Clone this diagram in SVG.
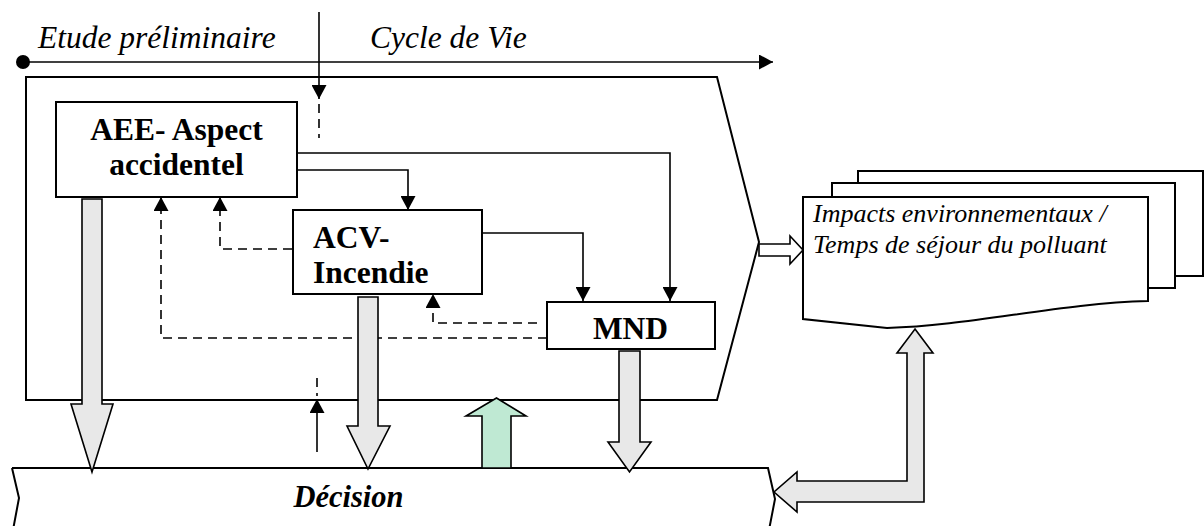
<svg xmlns="http://www.w3.org/2000/svg" width="1204" height="526" viewBox="0 0 1204 526">
<defs>
<style>
.ln{fill:none;stroke:#000;stroke-width:1.6}
.dash{fill:none;stroke:#000;stroke-width:1.6;stroke-dasharray:9 6}
.box{fill:#fff;stroke:#000;stroke-width:2}
.big{fill:#e8e8e8;stroke:#000;stroke-width:1.6;stroke-linejoin:miter}
.grn{fill:#bfe9d3;stroke:#000;stroke-width:1.6}
.wht{fill:#fff;stroke:#000;stroke-width:1.6}
.it{font-family:"Liberation Serif","Times New Roman",serif;font-style:italic;fill:#000}
.bd{font-family:"Liberation Serif","Times New Roman",serif;font-weight:bold;fill:#000}
</style>
<marker id="ah" viewBox="0 0 14 15" refX="14" refY="7.5" markerWidth="14" markerHeight="15" markerUnits="userSpaceOnUse" orient="auto">
<path d="M0,0 L14,7.5 L0,15 Z" fill="#000"/>
</marker>
</defs>

<g id="cycle">
<path class="box" d="M26,77 H717 L759,242 L717,400 H26 Z" fill="none"/>
</g>

<g id="documents">
<rect class="box" x="858" y="171" width="345" height="105"/>
<rect class="box" x="832" y="183" width="343" height="105"/>
<path class="box" d="M803,197 H1148 V301 C1060,303 970,326 887,328 L803,319 Z"/>
<text class="it" font-size="26" x="813" y="222">Impacts environnementaux /</text>
<text class="it" font-size="26" x="813" y="253">Temps de séjour du polluant</text>
</g>

<g id="decision">
<path class="box" d="M12,468 H768 L775,499 L769,530 M12,468 L19,498 L13,530" fill="none"/>
<text class="it" font-weight="bold" font-size="30.5" x="348.5" y="507" text-anchor="middle">Décision</text>
</g>

<g id="aee">
<rect class="box" x="56" y="102" width="241" height="95"/>
<text class="bd" font-size="31.5" x="176.5" y="140" text-anchor="middle">AEE- Aspect</text>
<text class="bd" font-size="31.5" x="176.5" y="175" text-anchor="middle">accidentel</text>
</g>

<g id="acv">
<rect class="box" x="293" y="210" width="189" height="84"/>
<text class="bd" font-size="31.5" x="313" y="248">ACV-</text>
<text class="bd" font-size="31.5" x="313" y="283">Incendie</text>
</g>

<g id="mnd">
<rect class="box" x="547" y="302" width="168" height="47"/>
<text class="bd" font-size="31.5" x="630.5" y="339" text-anchor="middle">MND</text>
</g>

<g id="timeline">
<circle cx="23" cy="62" r="7" fill="#000"/>
<line class="ln" x1="23" y1="62" x2="773" y2="62" marker-end="url(#ah)"/>
<text class="it" font-size="31.5" x="38" y="48">Etude préliminaire</text>
<text class="it" font-size="31.5" x="370" y="48">Cycle de Vie</text>
</g>

<g id="connectors">
<line class="ln" x1="319" y1="12" x2="319" y2="99" marker-end="url(#ah)"/>
<line class="dash" x1="319" y1="104" x2="319" y2="138"/>
<path class="ln" d="M297,170 H408 V210" marker-end="url(#ah)"/>
<path class="ln" d="M297,153 H670 V301" marker-end="url(#ah)"/>
<path class="ln" d="M482,233 H583 V301" marker-end="url(#ah)"/>
<path class="dash" d="M292,249 H220 V197" marker-end="url(#ah)"/>
<path class="dash" d="M547,338 H161 V197" marker-end="url(#ah)"/>
<path class="dash" d="M537,323 H433 V294" marker-end="url(#ah)"/>
<line class="ln" x1="317" y1="452" x2="317" y2="399" marker-end="url(#ah)"/>
<line class="dash" x1="317" y1="378" x2="317" y2="396"/>
<polygon class="big" points="82,199 102,199 102,404 113,404 92,472 71,404 82,404"/>
<polygon class="big" points="358,297 378,297 378,426 390,426 368,469 347,426 358,426"/>
<polygon class="big" points="619,351 640,351 640,442 651,442 629.5,472 608,442 619,442"/>
<polygon class="grn" points="482,468 511,468 511,416 526,416 496.5,398 466,416 482,416"/>
<polygon class="wht" points="759,244 790,244 790,236 803,250 790,264 790,256 759,256"/>
<polygon class="big" points="915,329 933,353 924,353 924,502 797,502 797,512 774,492 797,472 797,481 907,481 907,353 897,353"/>
</g>
</svg>
